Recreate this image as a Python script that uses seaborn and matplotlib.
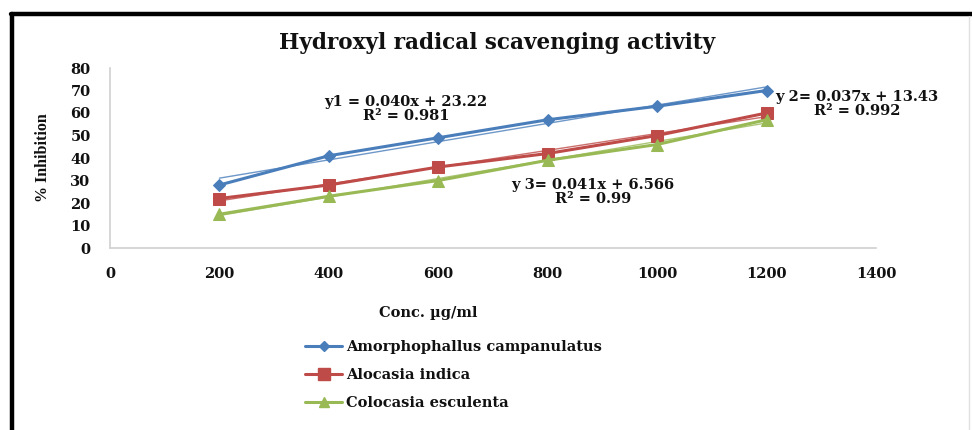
import matplotlib
matplotlib.use("Agg")
import matplotlib.pyplot as plt
import seaborn as sns
import pandas as pd
from matplotlib.lines import Line2D

conc = [200, 400, 600, 800, 1000, 1200]
amorphophallus = [28, 41, 49, 57, 63, 70]
alocasia = [22, 28, 36, 42, 50, 60]
colocasia = [15, 23, 30, 39, 46, 57]
series_names = ["Amorphophallus campanulatus", "Alocasia indica", "Colocasia esculenta"]
x_ticks = [0, 200, 400, 600, 800, 1000, 1200, 1400]
y_ticks = [0, 10, 20, 30, 40, 50, 60, 70, 80]
eq_texts = ["y1 = 0.040x + 23.22\nR² = 0.981",
            "y 2= 0.037x + 13.43\nR² = 0.992",
            "y 3= 0.041x + 6.566\nR² = 0.99"]

sns.set_style("white")
plt.rcParams['font.family'] = ['DejaVu Serif', 'Liberation Serif']
plt.rcParams['font.weight'] = 'bold'
plt.rcParams['text.color'] = '#111111'
plt.rcParams['xtick.color'] = '#111111'
plt.rcParams['ytick.color'] = '#111111'
plt.rcParams['axes.labelcolor'] = '#111111'

df = pd.DataFrame({
    "conc": conc * 3,
    "value": amorphophallus + alocasia + colocasia,
    "series": [series_names[0]] * 6 + [series_names[1]] * 6 + [series_names[2]] * 6,
})

colors = ["#4A7EBB", "#BE4B48", "#98B954"]
markers = ["D", "s", "^"]
msizes = [6, 9, 8]

fig = plt.figure(figsize=(9.72, 4.30), dpi=100)
ax = fig.add_axes([110/972, 1-248/430, 766/972, 180/430])

for i, name in enumerate(series_names):
    sub = df[df.series == name]
    sns.regplot(data=sub, x="conc", y="value", ax=ax, scatter=False, ci=None,
                color=colors[i], line_kws=dict(lw=1.0, alpha=0.8, zorder=2))
    sns.lineplot(data=sub, x="conc", y="value", ax=ax, color=colors[i],
                 marker=markers[i], markersize=msizes[i], lw=2.2, label=name,
                 markeredgecolor=colors[i], zorder=3, legend=False)

ax.set_xlim(0, 1400)
ax.set_ylim(0, 80)
ax.set_xticks(x_ticks)
ax.set_yticks(y_ticks)
ax.tick_params(axis='both', length=0, labelsize=10.5)
ax.tick_params(axis='x', pad=14)
ax.tick_params(axis='y', pad=14)
for lab in ax.get_xticklabels() + ax.get_yticklabels():
    lab.set_fontweight('bold')
for s in ["top", "right"]:
    ax.spines[s].set_visible(False)
for s in ["left", "bottom"]:
    ax.spines[s].set_color("#D0D0D0")
    ax.spines[s].set_linewidth(1.2)
ax.set_xlabel("")
ax.set_ylabel("% Inhibition", fontsize=11.5, fontweight='bold', labelpad=14,
              family=['Liberation Serif', 'DejaVu Serif'])

fig.text(497/972, 1-43/430, "Hydroxyl radical scavenging activity", ha='center', va='center',
         fontsize=15.5, fontweight='bold')
fig.text(428/972, 1-313/430, "Conc. µg/ml", ha='center', va='center', fontsize=10.5, fontweight='bold')

ax.text(541, 61.8, eq_texts[0], ha='center', va='center', fontsize=10.5, fontweight='bold',
        linespacing=1.0)
ax.text(1365, 64.2, eq_texts[1], ha='center', va='center', fontsize=10.5, fontweight='bold',
        linespacing=1.0)
ax.text(883, 25.1, eq_texts[2], ha='center', va='center', fontsize=10.5, fontweight='bold',
        linespacing=1.0)

handles = [Line2D([], [], color=colors[i], marker=markers[i], markersize=msizes[i] - 1, lw=2.2)
           for i in range(3)]
fig.legend(handles, series_names, loc='upper left', bbox_to_anchor=(298/972, 1-333/430),
           frameon=False, handlelength=2.5, handletextpad=0.3,
           labelspacing=0.95, borderpad=0, prop={'weight': 'bold', 'size': 10.5})

fig.add_artist(Line2D([12/972, 12/972], [0, 1-14/430], color='black', lw=3.2,
                      transform=fig.transFigure))
fig.add_artist(Line2D([10.5/972, 1], [1-14/430, 1-14/430], color='black', lw=3.2,
                      transform=fig.transFigure))
fig.add_artist(Line2D([969/972, 969/972], [0, 1-16/430], color='#E0E0E0', lw=1,
                      transform=fig.transFigure))

fig.savefig("out.png", dpi=100)
